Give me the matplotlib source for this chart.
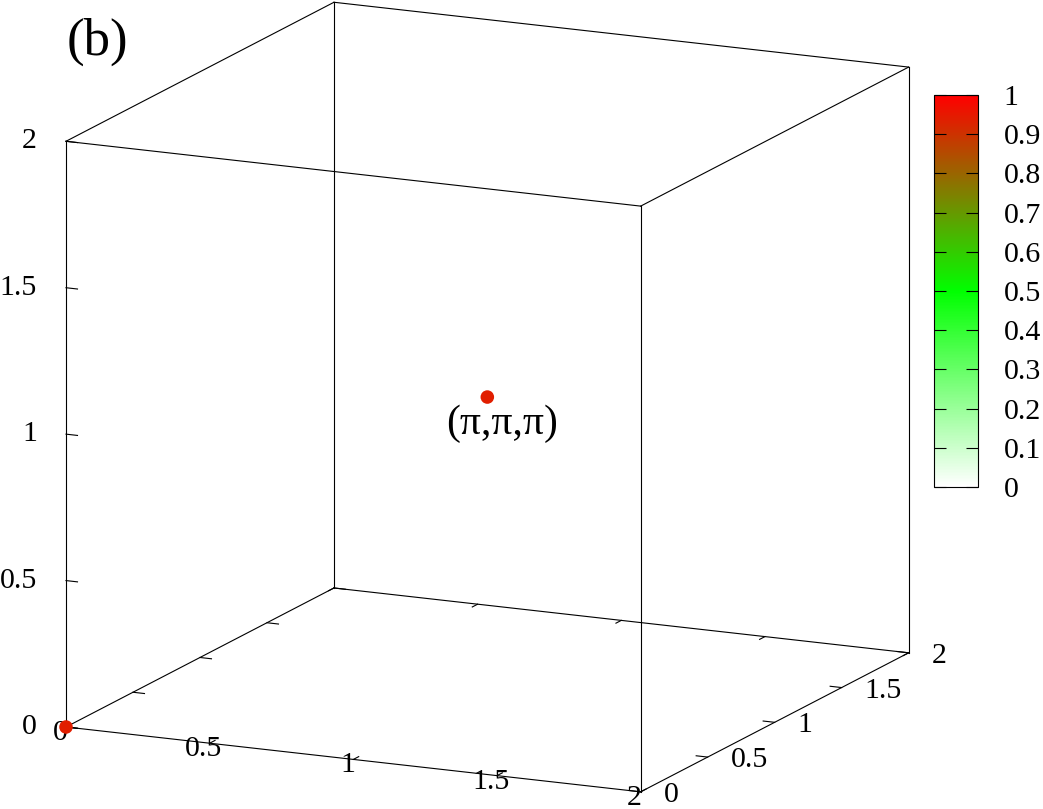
import itertools
import numpy as np
import matplotlib
matplotlib.use('Agg')
import matplotlib.pyplot as plt
from matplotlib.colors import LinearSegmentedColormap
from matplotlib.transforms import offset_copy

plt.rcParams['font.family'] = ['Liberation Serif', 'DejaVu Serif']

# points (x, y, z) and the colour value of each
pt_x = [0, 1]
pt_y = [0, 1]
pt_z = [0, 1]
pt_val = [0.94, 0.94]
pt_label = '(π,π,π)'
panel = '(b)'

x_ticks = [0, 0.5, 1, 1.5, 2]
y_ticks = [0, 0.5, 1, 1.5, 2]
z_ticks = [0, 0.5, 1, 1.5, 2]
cb_ticks = [0, 0.1, 0.2, 0.3, 0.4, 0.5, 0.6, 0.7, 0.8, 0.9, 1]

W, H = 1043, 809
fs = 21.5
lw = 0.8
fig = plt.figure(figsize=(W / 100, H / 100), dpi=100)

cmap = LinearSegmentedColormap.from_list('wgr', ['white', '#00ff00', 'red'])

ax = fig.add_axes([0.05, 0.05, 0.8, 0.8], projection='3d', proj_type='ortho')
ax.view_init(elev=14, azim=-65)
ax.set_box_aspect((1, 1, 0.952))
lo, hi = min(x_ticks), max(x_ticks)
ax.set_xlim(lo, hi)
ax.set_ylim(lo, hi)
ax.set_zlim(lo, hi)
ax.set_axis_off()
ax.computed_zorder = False


def shifted(dx, dy):
    return offset_copy(ax.transData, fig=fig, x=dx, y=dy, units='dots')


# box edges
for a, b in itertools.combinations(itertools.product([lo, hi], repeat=3), 2):
    if sum(p != q for p, q in zip(a, b)) == 1:
        ax.plot(*zip(a, b), color='black', lw=lw, zorder=1)

# ticks + labels
tl = 0.04
for t in x_ticks:
    ax.plot([t, t], [lo, lo + tl], [lo, lo], color='black', lw=lw, zorder=1)
    ax.plot([t, t], [hi, hi - tl], [lo, lo], color='black', lw=lw, zorder=1)
    ax.text(t, lo, lo, f'{t:g}', transform=shifted(-6, -6),
            ha='center', va='center', fontsize=fs)
for t in y_ticks:
    ax.plot([hi, hi - tl], [t, t], [lo, lo], color='black', lw=lw, zorder=1)
    ax.plot([lo, lo + tl], [t, t], [lo, lo], color='black', lw=lw, zorder=1)
    ax.text(hi, t, lo, f'{t:g}', transform=shifted(23, -3),
            ha='left', va='center', fontsize=fs)
for t in z_ticks:
    ax.plot([lo, lo + tl], [lo, lo], [t, t], color='black', lw=lw, zorder=1)
    ax.text(lo, lo, t, f'{t:g}', transform=shifted(-29, 0),
            ha='right', va='center', fontsize=fs)

sc = ax.scatter(pt_x, pt_y, pt_z, c=pt_val, cmap=cmap, vmin=0, vmax=1,
                s=95, depthshade=False, edgecolors='none', zorder=5)
ax.text(pt_x[1], pt_y[1], pt_z[1], pt_label, transform=shifted(15, -27),
        ha='center', va='center', fontsize=30)

# fit the cube onto the page: front-bottom-left and back-top-right corners
fig.canvas.draw()


def px(x, y, z):
    v = ax.M @ np.array([x, y, z, 1.0])
    return ax.transData.transform((v[0] / v[3], v[1] / v[3]))


o_t = np.array([66, H - 727])
p_t = np.array([907, H - 65])
o, p = px(lo, lo, lo), px(hi, hi, hi)
s = np.hypot(*(p_t - o_t)) / np.hypot(*(p - o))
bb = ax.get_position()
c = np.array([(bb.x0 + bb.x1) / 2 * W, (bb.y0 + bb.y1) / 2 * H])
side = bb.width * W * s
c2 = o_t - s * (o - c)
ax.set_position([(c2[0] - side / 2) / W, (c2[1] - side / 2) / H, side / W, side / H])

# colour bar
cax = fig.add_axes([934 / W, (H - 487) / H, 44 / W, 392 / H])
cb = fig.colorbar(sc, cax=cax)
cb.set_ticks(cb_ticks, labels=[f'{t:g}' for t in cb_ticks])
cb.outline.set_linewidth(lw)
cax.tick_params(direction='in', length=8.6, width=lw, left=True, right=True,
                labelsize=fs, pad=18.5)

fig.text(97 / W, 1 - 42 / H, panel, ha='center', va='center', fontsize=38)

fig.savefig('out.png', dpi=100)
